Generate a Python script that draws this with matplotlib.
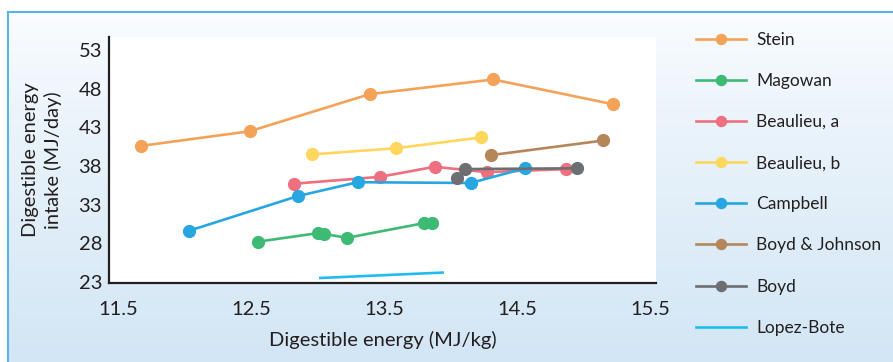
#!/usr/bin/env python3
from __future__ import annotations

import matplotlib

matplotlib.use("Agg")
import matplotlib.pyplot as plt
import numpy as np

# Digestible energy (MJ/kg) vs digestible energy intake (MJ/day)
stein_x = [11.67, 12.49, 13.39, 14.32, 15.22]
stein_y = [40.6, 42.5, 47.3, 49.2, 46.0]
magowan_x = [12.55, 13.00, 13.05, 13.22, 13.80, 13.86]
magowan_y = [28.2, 29.3, 29.2, 28.7, 30.6, 30.6]
beaulieu_a_x = [12.82, 13.47, 13.88, 14.27, 14.87]
beaulieu_a_y = [35.7, 36.6, 37.9, 37.2, 37.6]
beaulieu_b_x = [12.96, 13.59, 14.23]
beaulieu_b_y = [39.5, 40.3, 41.7]
campbell_x = [12.03, 12.85, 13.30, 14.15, 14.56]
campbell_y = [29.6, 34.1, 35.9, 35.8, 37.7]
boyd_johnson_x = [14.30, 15.15]
boyd_johnson_y = [39.4, 41.3]
boyd_x = [14.05, 14.11, 14.95]
boyd_y = [36.4, 37.6, 37.7]
lopez_bote_x = [13.02, 13.94]
lopez_bote_y = [23.5, 24.2]

x_ticks = [11.5, 12.5, 13.5, 14.5, 15.5]
y_ticks = [23, 28, 33, 38, 43, 48, 53]


def main() -> int:
    plt.rcParams.update(
        {
            "font.family": ["Lato", "DejaVu Sans"],
            "font.size": 14,
            "text.color": "#231f20",
            "axes.labelcolor": "#231f20",
            "xtick.color": "#231f20",
            "ytick.color": "#231f20",
            "axes.linewidth": 1.6,
            "axes.edgecolor": "#231f20",
        }
    )

    fig = plt.figure(figsize=(8.93, 3.62), dpi=100)
    fig.patch.set_facecolor("white")

    # gradient panel behind everything
    bg = fig.add_axes([8 / 893, 0, 1 - 8 / 893, 1 - 12 / 362], zorder=-10)
    grad = np.linspace(0, 1, 256).reshape(-1, 1)
    top = np.array([0.985, 0.992, 1.0])
    bot = np.array([0.827, 0.902, 0.961])
    img = top + (bot - top) * grad[..., None] ** 0.8
    bg.imshow(img, aspect="auto", extent=[0, 1, 0, 1], origin="upper")
    bg.set_xlim(0, 1)
    bg.set_ylim(0, 1)
    for side in ("right", "bottom"):
        bg.spines[side].set_visible(False)
    for side in ("top", "left"):
        bg.spines[side].set_color("#5ab4e5")
        bg.spines[side].set_linewidth(1.5)
    bg.set_xticks([])
    bg.set_yticks([])

    ax = fig.add_axes([109 / 893, 1 - 283 / 362, (656 - 109) / 893, (283 - 37) / 362])
    ax.set_facecolor("white")

    mk = dict(marker="o", markersize=8.5, linewidth=1.9)
    ax.plot(stein_x, stein_y, color="#f5a259", label="Stein", **mk)
    ax.plot(magowan_x, magowan_y, color="#3dba74", label="Magowan", **mk)
    ax.plot(beaulieu_a_x, beaulieu_a_y, color="#ee6f80", label="Beaulieu, a", **mk)
    ax.plot(beaulieu_b_x, beaulieu_b_y, color="#ffd65e", label="Beaulieu, b", **mk)
    ax.plot(campbell_x, campbell_y, color="#26a7e1", label="Campbell", **mk)
    ax.plot(boyd_johnson_x, boyd_johnson_y, color="#b5865a", label="Boyd & Johnson", **mk)
    ax.plot(boyd_x, boyd_y, color="#6d6e71", label="Boyd", **mk)
    ax.plot(lopez_bote_x, lopez_bote_y, color="#1fbdef", linewidth=1.9, label="Lopez-Bote")

    ax.set_xlim(11.43, 15.545)
    ax.set_ylim(22.85, 54.7)
    ax.set_xticks(x_ticks)
    ax.set_xticklabels([f"{t:.1f}" for t in x_ticks])
    ax.set_yticks(y_ticks)
    ax.tick_params(length=0, labelsize=14.5)
    ax.tick_params(axis="x", pad=13)
    ax.tick_params(axis="y", pad=5)
    ax.spines["top"].set_visible(False)
    ax.spines["right"].set_visible(False)
    ax.set_xlabel("Digestible energy (MJ/kg)", fontsize=14.5, labelpad=9)
    ax.set_ylabel("Digestible energy\nintake (MJ/day)", fontsize=14.5, labelpad=12, linespacing=1.3)

    handles, labels = ax.get_legend_handles_labels()
    fig.legend(
        handles,
        labels,
        loc="upper left",
        bbox_to_anchor=(680 / 893, 1 - 16 / 362),
        frameon=False,
        fontsize=12.5,
        markerscale=0.85,
        handlelength=2.9,
        handletextpad=0.6,
        labelspacing=1.45,
    )

    fig.savefig("out.png", dpi=100)
    return 0


if __name__ == "__main__":
    raise SystemExit(main())
